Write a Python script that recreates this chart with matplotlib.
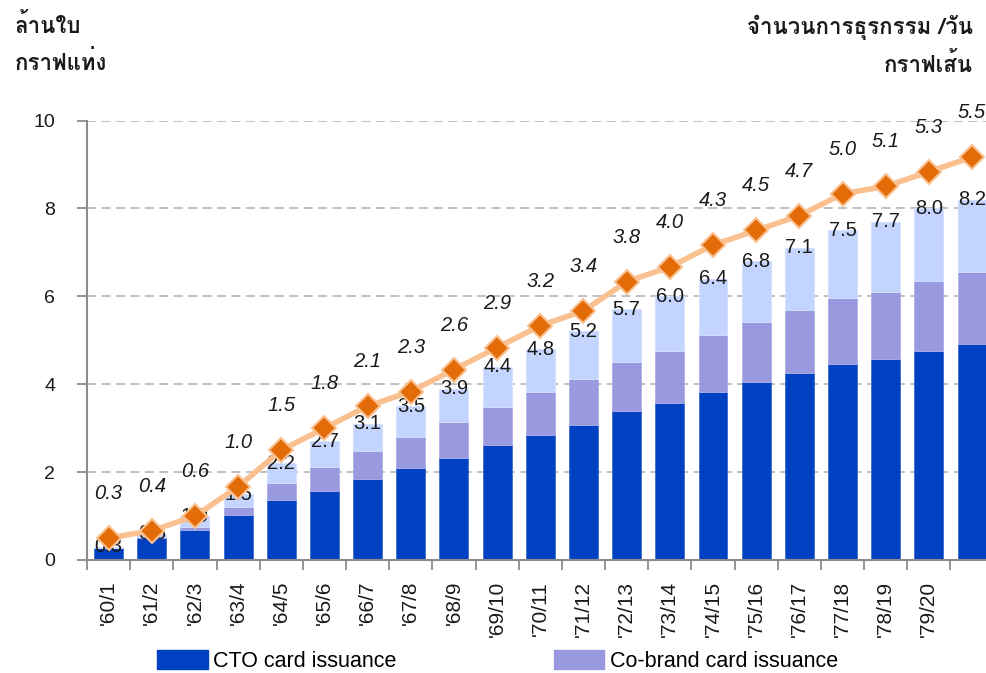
import numpy as np
import matplotlib
matplotlib.use('Agg')
import matplotlib.pyplot as plt
from matplotlib.patches import Patch

plt.rcParams['font.family'] = ['Liberation Sans', 'Loma', 'DejaVu Sans']

# data
periods = ["'60/1", "'61/2", "'62/3", "'63/4", "'64/5", "'65/6", "'66/7", "'67/8",
           "'68/9", "'69/10", "'70/11", "'71/12", "'72/13", "'73/14", "'74/15",
           "'75/16", "'76/17", "'77/18", "'78/19", "'79/20", ""]
cto = [0.27, 0.49, 0.68, 1.02, 1.37, 1.58, 1.84, 2.09, 2.33, 2.61, 2.85,
       3.07, 3.38, 3.57, 3.82, 4.06, 4.26, 4.47, 4.58, 4.76, 4.91]
cobrand = [0.01, 0.03, 0.08, 0.19, 0.38, 0.54, 0.63, 0.71, 0.80, 0.87, 0.97,
           1.04, 1.13, 1.19, 1.30, 1.36, 1.42, 1.50, 1.52, 1.59, 1.65]
totals = [0.3, 0.6, 1.0, 1.5, 2.2, 2.7, 3.1, 3.5, 3.9, 4.4, 4.8,
          5.2, 5.7, 6.0, 6.4, 6.8, 7.1, 7.5, 7.7, 8.0, 8.2]
other = [t - a - b for t, a, b in zip(totals, cto, cobrand)]
transactions = [0.3, 0.4, 0.6, 1.0, 1.5, 1.8, 2.1, 2.3, 2.6, 2.9, 3.2,
                3.4, 3.8, 4.0, 4.3, 4.5, 4.7, 5.0, 5.1, 5.3, 5.5]

c_cto = '#0041C2'
c_cob = '#9999E0'
c_oth = '#C3D5FF'
c_line = '#FAC090'
c_mark = '#E36C09'
gray = '#8C8C8C'
txt = '#1a1a1a'

fig = plt.figure(figsize=(9.86, 6.73), dpi=100)
ax = fig.add_axes([87 / 986, 1 - 560 / 673, (993.6 - 87) / 986, (560 - 120.5) / 673])

x = np.arange(len(periods))
w = 0.67
ax.bar(x, cto, w, color=c_cto, edgecolor='#3A6AD4', linewidth=0.6, zorder=2)
ax.bar(x, cobrand, w, bottom=cto, color=c_cob, edgecolor='#AEAEE8', linewidth=0.6, zorder=2)
ax.bar(x, other, w, bottom=np.add(cto, cobrand), color=c_oth, edgecolor='#D4E1FF',
       linewidth=0.6, zorder=2)

for xi, t in zip(x, totals):
    ax.text(xi, t, f'{t:.1f}', ha='center', va='center', fontsize=14.5,
            color=txt, zorder=5)

ax.set_xlim(-0.5, 20.5)
ax.set_ylim(0, 10)
ax.set_yticks(np.arange(0, 11, 2))
ax.set_yticklabels([str(v) for v in range(0, 11, 2)], fontsize=14, color=txt)
for yv in range(2, 11, 2):
    ax.axhline(yv, color='#BBBBBB', lw=1.3, ls=(0, (5, 3)), zorder=1)

ax.set_xticks(x)
ax.set_xticklabels(periods, rotation=90, fontsize=15, color=txt, va='top')
ax.set_xticks(np.arange(-0.5, 21, 1), minor=True)
ax.tick_params(axis='x', which='major', length=0, pad=15)
ax.tick_params(axis='x', which='minor', length=7, width=1.3, color=gray)
ax.tick_params(axis='y', length=7, width=1.3, color=gray, pad=16)

for s in ['top', 'right']:
    ax.spines[s].set_visible(False)
for s in ['left', 'bottom']:
    ax.spines[s].set_color(gray)
    ax.spines[s].set_linewidth(1.5)

ax2 = ax.twinx()
ax2.set_ylim(0, 6)
ax2.axis('off')
ax2.plot(x, transactions, color=c_line, lw=4, marker='D', markersize=12,
         markerfacecolor=c_mark, markeredgecolor=c_line, markeredgewidth=1.5, zorder=3)
for xi, v in zip(x, transactions):
    ax2.annotate(f'{v:.1f}', (xi, v), xytext=(0, 32), textcoords='offset points',
                 ha='center', va='center', fontsize=14.5, style='italic', color=txt)

# titles
thai = ['Loma', 'DejaVu Sans']
fig.text(15 / 986, 1 - 33 / 673, 'ล้านใบ', fontsize=16, fontweight='bold',
         va='baseline', ha='left', family=thai, color=txt)
fig.text(15 / 986, 1 - 70 / 673, 'กราฟแท่ง', fontsize=16, fontweight='bold',
         va='baseline', ha='left', family=thai, color=txt)
fig.text(973 / 986, 1 - 34 / 673, 'จำนวนการธุรกรรม /วัน', fontsize=16, fontweight='bold',
         va='baseline', ha='right', family=thai, color=txt)
fig.text(973 / 986, 1 - 72 / 673, 'กราฟเส้น', fontsize=16, fontweight='bold',
         va='baseline', ha='right', family=thai, color=txt)

handles = [Patch(color=c_cto, label='CTO card issuance'),
           Patch(color=c_cob, label='Co-brand card issuance')]
fig.legend(handles=handles, loc='center left', bbox_to_anchor=(142 / 986, 1 - 661 / 673),
           ncol=2, frameon=False, fontsize=15.5, handlelength=2.35, handleheight=1.0,
           columnspacing=7.3, handletextpad=0.25, borderaxespad=0.3)

fig.savefig('out.png', dpi=100)
